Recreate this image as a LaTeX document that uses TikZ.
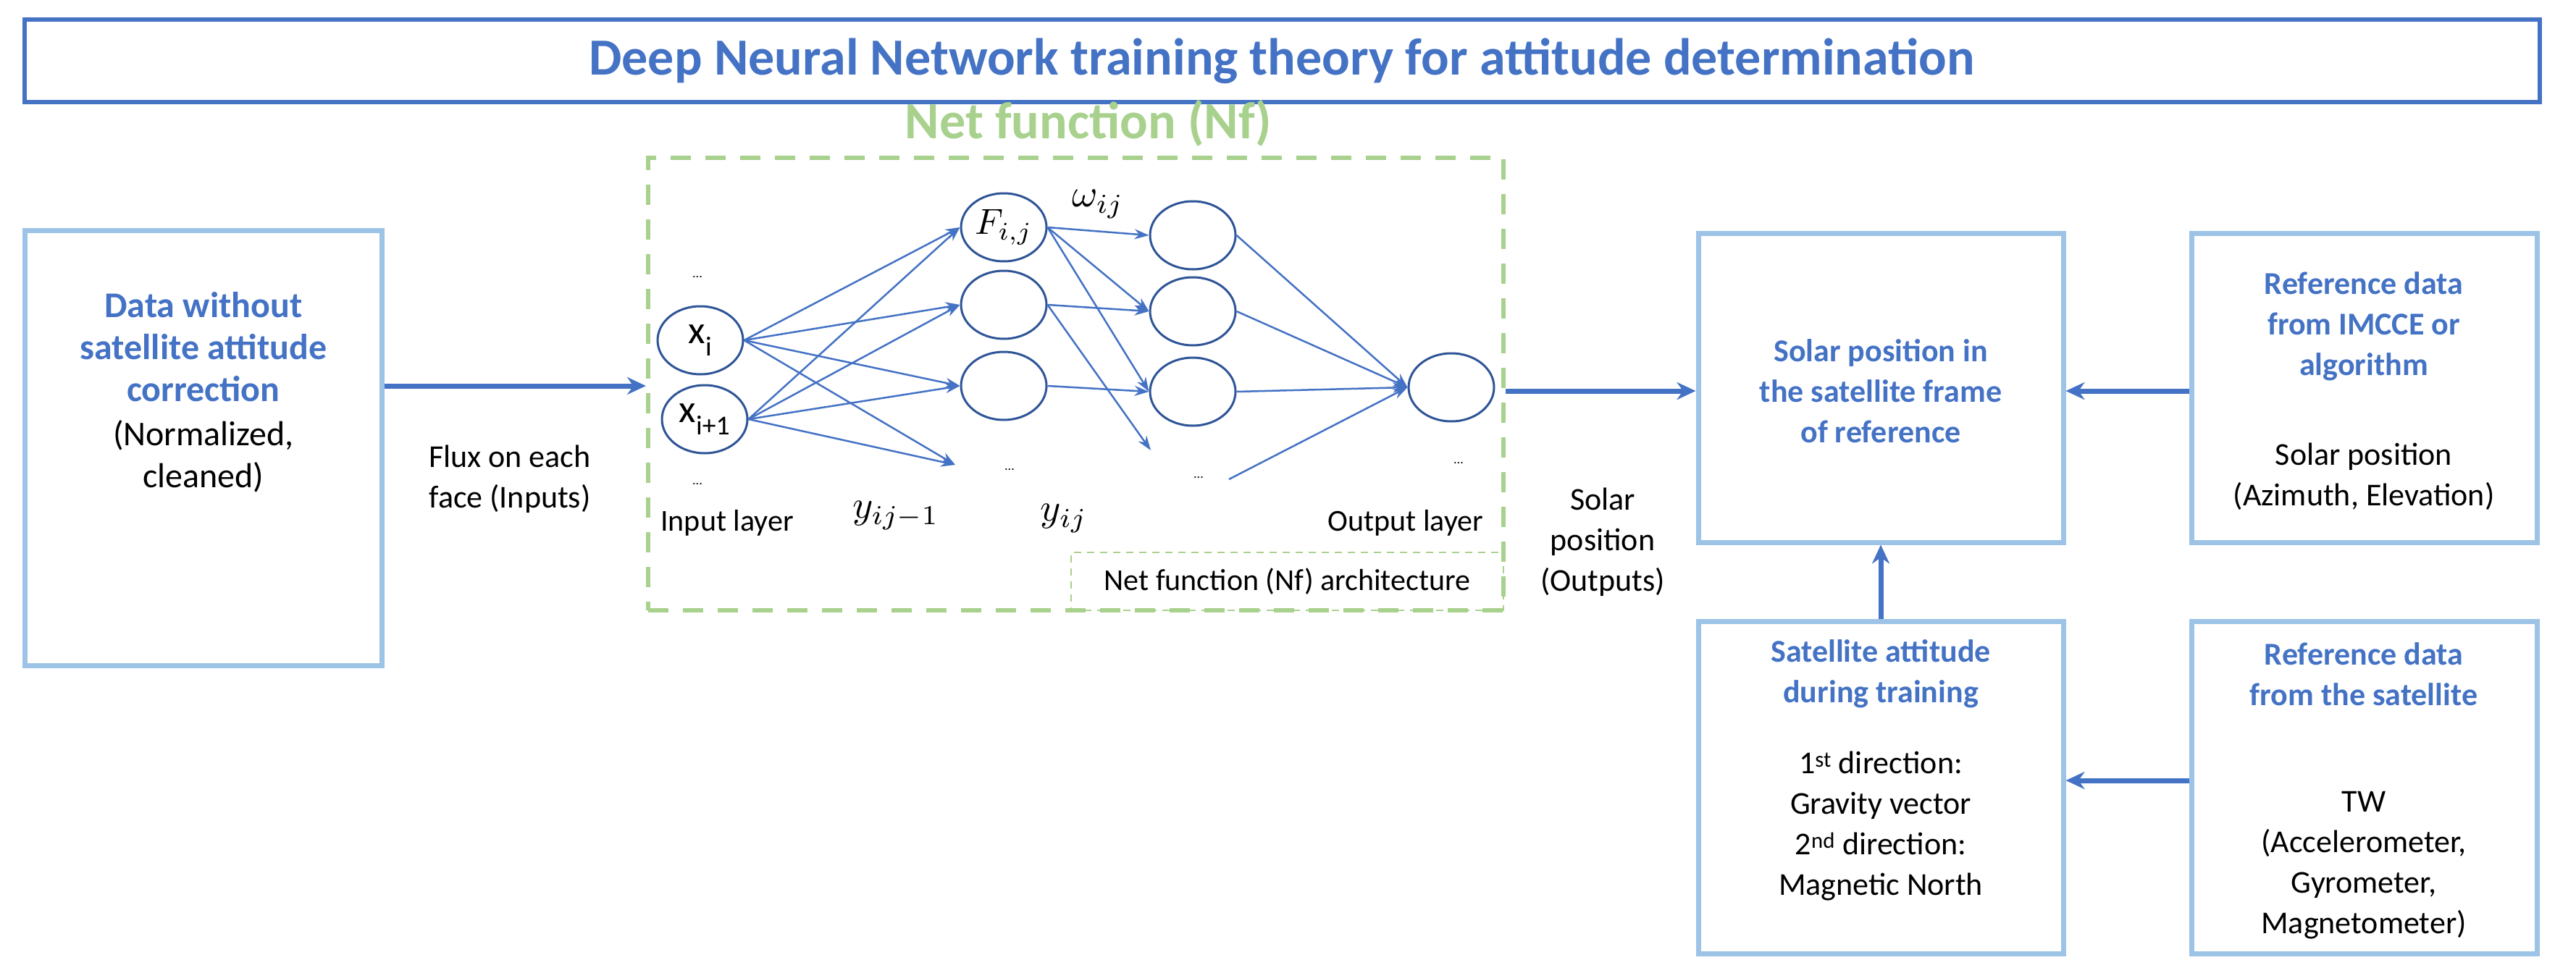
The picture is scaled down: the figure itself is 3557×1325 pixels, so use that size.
\documentclass[tikz,border=0pt]{standalone}
\usepackage{graphicx}
\usepackage{fontspec}
\setmainfont{Carlito}
\usetikzlibrary{shapes.geometric,arrows.meta}
\definecolor{tblue}{HTML}{4472C4}
\definecolor{lblue}{HTML}{9DC3E6}
\definecolor{dblue}{HTML}{2F5597}
\definecolor{lgreen}{HTML}{A9D18E}
\begin{document}
\begin{tikzpicture}[x=1pt,y=-1pt,
  box/.style={draw=lblue,line width=7pt},
  txt/.style={font=\fontsize{44}{56}\selectfont,align=center},
  btxt/.style={font=\fontsize{44}{56}\selectfont\bfseries,text=tblue,align=center},
  big/.style={-{Stealth[length=26pt,width=24pt]},draw=tblue,line width=7pt},
  neu/.style={ellipse,draw=dblue,line width=3pt,minimum width=118pt,minimum height=94pt,inner sep=0pt,font=\fontsize{54}{56}\selectfont},
  nn/.style={-{Stealth[length=20pt,width=14pt]},draw=tblue,line width=2.5pt},
  sm/.style={font=\fontsize{42}{48}\selectfont},
  mth/.style={font=\normalsize},
  dd/.style={font=\fontsize{18}{20}\selectfont}]
\useasboundingbox (0,0) rectangle (3557,1325);
% title
\node[draw=tblue,line width=6pt,minimum width=3473pt,minimum height=114pt,inner sep=0pt,font=\fontsize{72}{80}\selectfont\bfseries,text=tblue] (title) at (1770,84) {Deep Neural Network training theory for attitude determination};
% green boxes
\node[draw=lgreen,line width=6pt,dash pattern=on 28pt off 20pt,minimum width=1181pt,minimum height=625pt,inner sep=0pt] (nf) at (1485.5,530.5) {};
\node[font=\fontsize{72}{80}\selectfont\bfseries,text=lgreen] (nft) at (1503,170) {Net function (Nf)};
\node[draw=lgreen,line width=2.5pt,dash pattern=on 10pt off 8pt,minimum width=597pt,minimum height=80pt,inner sep=0pt,sm] (nfa) at (1777.5,803) {Net function (Nf) architecture};
% left box
\node[box,minimum width=493pt,minimum height=601pt] (data) at (280.5,618.5) {};
\node[btxt,font=\fontsize{50}{58}\selectfont\bfseries] (datat) at (281,479) {Data without\\satellite attitude\\correction};
\node[txt,font=\fontsize{48}{58}\selectfont] (datan) at (281,630) {(Normalized,\\cleaned)};
\node[txt] (flux) at (704,662) {Flux on each\\face (Inputs)};
\coordinate (nfin) at (nf.west |- 0,533);
\draw[big] (data.east |- 0,533) -- (nfin);
% neurons
\node[neu] (xi) at (967,470) {x\textsubscript{i}};
\node[neu] (xj) at (973,579) {x\textsubscript{i+1}};
\node[neu,font=\normalsize] (F) at (1386,314) {\scalebox{5}{$F_{i,j}$}};
\node[neu] (h2) at (1386,421) {};
\node[neu] (h3) at (1386,533) {};
\node[neu] (l1) at (1647,325) {};
\node[neu] (l2) at (1647,430) {};
\node[neu] (l3) at (1647,541) {};
\node[neu] (out) at (2004,535) {};
\coordinate (e1) at (1319,642);
\coordinate (e2) at (1589,622);
\coordinate (e3) at (1697,662);
\foreach \s in {xi,xj}{\foreach \t in {F,h2,h3}{\draw[nn] (\s.east) -- (\t.west);}\draw[nn] (\s.east) -- (e1);}
\draw[nn] (F.east) -- (l1.west);
\draw[nn] (F.east) -- (l2.west);
\draw[nn] (F.east) -- (l3.west);
\draw[nn] (h2.east) -- (l2.west);
\draw[nn] (h2.east) -- (e2);
\draw[nn] (h3.east) -- (l3.west);
\foreach \s in {l1,l2,l3}{\draw[nn] (\s.east) -- (out.west);}
\draw[nn] (e3) -- (out.west);
\node[dd] (d1) at (963,383) {...};
\node[dd] (d2) at (963,669) {...};
\node[dd] (d3) at (1394,649) {...};
\node[dd] (d4) at (1655,660) {...};
\node[dd] (d5) at (2014,640) {...};
\node[mth] (w) at (1516,282) {\scalebox{5.4}{$\omega_{ij}$}};
\node[mth] (y1) at (1237,712) {\scalebox{5.4}{$y_{ij-1}$}};
\node[mth] (y2) at (1469,716) {\scalebox{5.4}{$y_{ij}$}};
\node[sm] (il) at (1004,722) {Input layer};
\node[sm] (ol) at (1941,722) {Output layer};
% solar box
\node[box,minimum width=504pt,minimum height=427pt] (sol) at (2597,535.5) {};
\node[btxt] (solt) at (2597,540) {Solar position in\\the satellite frame\\of reference};
\node[txt] (solp) at (2213,749) {Solar\\position\\(Outputs)};
\draw[big] (nf.east |- 0,540) -- (sol.west |- 0,540);
% IMCCE box
\node[box,minimum width=477pt,minimum height=427pt] (ref) at (3264.5,535.5) {};
\node[btxt] (reft) at (3264,451) {Reference data\\from IMCCE or\\algorithm};
\node[txt] (refs) at (3264,658) {Solar position\\(Azimuth, Elevation)};
\draw[big] (ref.west |- 0,540) -- (sol.east |- 0,540);
% satellite attitude
\node[box,minimum width=504pt,minimum height=459pt] (att) at (2597,1087.5) {};
\node[btxt] (attt) at (2597,931) {Satellite attitude\\during training};
\node[txt] (atts) at (2597,1141) {1\textsuperscript{st} direction:\\Gravity vector\\2\textsuperscript{nd} direction:\\Magnetic North};
\draw[big] (att.north) -- (sol.south);
% TW
\node[box,minimum width=477pt,minimum height=459pt] (tw) at (3264.5,1087.5) {};
\node[btxt] (twt) at (3264,931) {Reference data\\from the satellite};
\node[txt] (tws) at (3264,1195) {TW\\(Accelerometer,\\Gyrometer,\\Magnetometer)};
\draw[big] (tw.west |- 0,1078) -- (att.east |- 0,1078);
\end{tikzpicture}
\end{document}
